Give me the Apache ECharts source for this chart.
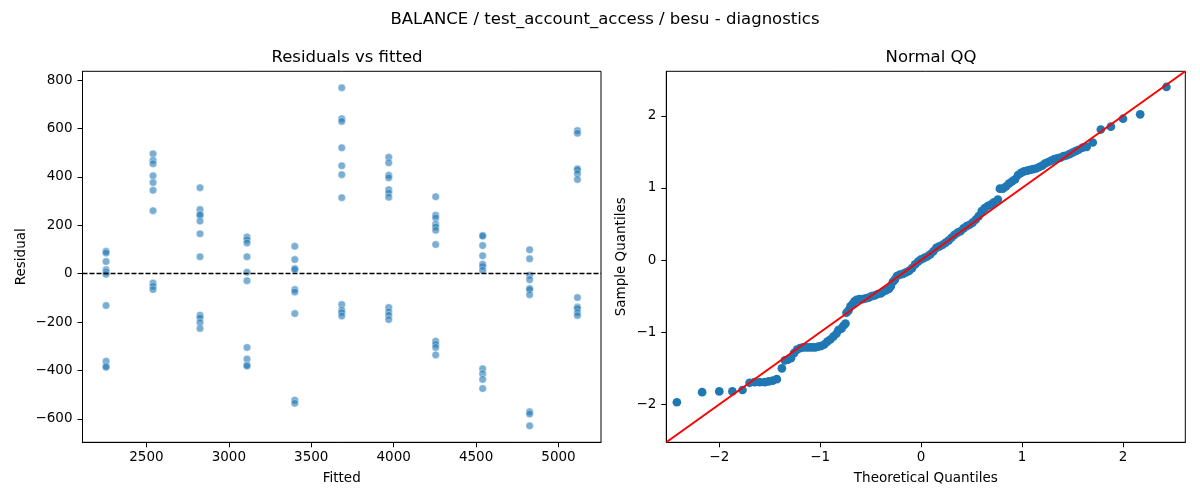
<!DOCTYPE html>
<html>
<head>
<meta charset="utf-8">
<title>diagnostics</title>
<script src="https://cdn.jsdelivr.net/npm/echarts@6/dist/echarts.min.js"></script>
<style>
    html, body { margin: 0; padding: 0; background: #fff; }
    #chart { width: 1200px; height: 500px; }
</style>
</head>
<body>
<div id="chart"></div>
<script>
'use strict';

// fitted value of each group (x position of each column of residuals)
var fitted = [2255, 2540, 2825, 3110, 3400, 3685, 3970, 4255, 4540, 4825, 5115];

// residuals read for each fitted group
var residuals = [
    [92, 85, 50, 16, 7, -3, -132, -362, -382, -387],
    [495, 468, 454, 404, 376, 344, 260, -39, -52, -66],
    [355, 265, 245, 241, 217, 165, 70, -172, -183, -202, -227],
    [151, 140, 127, 70, 6, -29, -305, -353, -378, -382],
    [113, 58, 21, 17, -66, -76, -165, -523, -536],
    [768, 640, 629, 520, 446, 409, 314, -128, -151, -161, -175],
    [481, 458, 406, 396, 347, 333, 316, -140, -158, -172, -190],
    [318, 241, 230, 204, 193, 179, 120, -279, -292, -305, -336],
    [158, 155, 116, 74, 39, 30, 14, -393, -414, -437, -475],
    [99, 61, -7, -25, -62, -66, -87, -571, -580, -629],
    [591, 580, 433, 429, 413, 389, -99, -138, -144, -161, -173]
];

var residualTicks = [-600, -400, -200, 0, 200, 400, 600, 800];
var fittedTicks = [2500, 3000, 3500, 4000, 4500, 5000];

// normal QQ points (theoretical, sample)
var qqTheoretical = [
    -2.42, -2.17, -2.00, -1.87, -1.77, -1.70, -1.65, -1.60, -1.55, -1.51,
    -1.47, -1.43, -1.38, -1.35, -1.32, -1.29, -1.26, -1.23, -1.20, -1.17,
    -1.14, -1.11, -1.08, -1.05, -1.02, -0.99, -0.96, -0.93, -0.90, -0.87,
    -0.84, -0.82, -0.79, -0.77, -0.75, -0.74, -0.72, -0.70, -0.68, -0.66,
    -0.64, -0.61, -0.58, -0.55, -0.52, -0.49, -0.46, -0.43, -0.40, -0.38,
    -0.35, -0.32, -0.30, -0.28, -0.26, -0.24, -0.21, -0.18, -0.15, -0.12,
    -0.09, -0.06, -0.03, 0.00, 0.03, 0.06, 0.09, 0.12, 0.15, 0.18,
    0.21, 0.24, 0.27, 0.30, 0.33, 0.36, 0.39, 0.42, 0.45, 0.48,
    0.51, 0.54, 0.57, 0.60, 0.63, 0.66, 0.69, 0.72, 0.76, 0.78,
    0.81, 0.84, 0.87, 0.90, 0.93, 0.96, 0.99, 1.02, 1.05, 1.08,
    1.11, 1.14, 1.17, 1.20, 1.23, 1.26, 1.29, 1.32, 1.35, 1.38,
    1.41, 1.44, 1.47, 1.50, 1.53, 1.56, 1.60, 1.64, 1.70, 1.78,
    1.88, 2.00, 2.17, 2.43
];
var qqSample = [
    -1.97, -1.83, -1.82, -1.82, -1.80, -1.70, -1.69, -1.69, -1.69, -1.68,
    -1.67, -1.65, -1.50, -1.39, -1.38, -1.36, -1.29, -1.24, -1.22, -1.21,
    -1.21, -1.21, -1.21, -1.21, -1.20, -1.19, -1.17, -1.13, -1.10, -1.06,
    -1.02, -0.97, -0.95, -0.91, -0.88, -0.73, -0.70, -0.64, -0.61, -0.57,
    -0.55, -0.54, -0.54, -0.53, -0.52, -0.50, -0.49, -0.47, -0.46, -0.44,
    -0.42, -0.40, -0.36, -0.30, -0.27, -0.22, -0.20, -0.19, -0.17, -0.15,
    -0.11, -0.06, -0.02, 0.01, 0.03, 0.05, 0.08, 0.12, 0.17, 0.19,
    0.21, 0.24, 0.27, 0.31, 0.35, 0.38, 0.40, 0.44, 0.47, 0.49,
    0.52, 0.56, 0.61, 0.68, 0.72, 0.75, 0.77, 0.80, 0.84, 0.99,
    0.99, 1.02, 1.06, 1.09, 1.12, 1.18, 1.21, 1.23, 1.24, 1.25,
    1.26, 1.27, 1.29, 1.31, 1.34, 1.36, 1.38, 1.40, 1.41, 1.42,
    1.44, 1.45, 1.47, 1.49, 1.51, 1.53, 1.56, 1.57, 1.63, 1.81,
    1.85, 1.96, 2.02, 2.40
];
var qqLimits = [-2.525, 2.617];
var qqTicks = [-2, -1, 0, 1, 2];

var FONT = 'DejaVu Sans';

function minus(v) {
    return String(v).replace('-', '\u2212');
}

function axisBase(idx, min, max, ticks, name, nameGap, isY) {
    return {
        type: 'value',
        gridIndex: idx,
        min: min,
        max: max,
        name: name,
        nameLocation: 'middle',
        nameGap: nameGap,
        nameRotate: isY ? 90 : 0,
        nameTextStyle: { fontFamily: FONT, fontSize: 13.5, color: '#000' },
        axisLine: { show: true, onZero: false, lineStyle: { color: '#000', width: 1 } },
        axisTick: {
            show: true, inside: false, length: 5,
            customValues: ticks,
            lineStyle: { color: '#000', width: 1 }
        },
        axisLabel: {
            show: true, margin: isY ? 10 : 8,
            customValues: ticks,
            fontFamily: FONT, fontSize: 13.5, color: '#000',
            formatter: minus
        },
        splitLine: { show: false }
    };
}

var residualPoints = [];
var i, j;
for (i = 0; i < fitted.length; i++) {
    for (j = 0; j < residuals[i].length; j++) {
        residualPoints.push([fitted[i], residuals[i][j]]);
    }
}

var qqPoints = [];
for (i = 0; i < qqTheoretical.length; i++) {
    qqPoints.push([qqTheoretical[i], qqSample[i]]);
}

var chart = echarts.init(document.getElementById('chart'));
chart.setOption({
    backgroundColor: '#fff',
    animation: false,
    title: [{
        text: 'BALANCE / test_account_access / besu - diagnostics',
        left: 600, top: 6, textAlign: 'center',
        textStyle: { fontFamily: FONT, fontSize: 16.5, fontWeight: 'normal', color: '#000' }
    }, {
        text: 'Residuals vs fitted',
        left: 342, top: 44, textAlign: 'center',
        textStyle: { fontFamily: FONT, fontSize: 16.5, fontWeight: 'normal', color: '#000' }
    }, {
        text: 'Normal QQ',
        left: 926, top: 44, textAlign: 'center',
        textStyle: { fontFamily: FONT, fontSize: 16.5, fontWeight: 'normal', color: '#000' }
    }],
    grid: [{
        left: 82.5, top: 71.3, width: 518.5, height: 371,
        show: true, borderColor: '#000', borderWidth: 1, backgroundColor: 'transparent'
    }, {
        left: 666.3, top: 71.3, width: 519, height: 371,
        show: true, borderColor: '#000', borderWidth: 1, backgroundColor: 'transparent'
    }],
    xAxis: [
        axisBase(0, 2112, 5258, fittedTicks, 'Fitted', 29, false),
        axisBase(1, qqLimits[0], qqLimits[1], qqTicks, 'Theoretical Quantiles', 29, false)
    ],
    yAxis: [
        axisBase(0, -697, 836, residualTicks, 'Residual', 54, true),
        axisBase(1, qqLimits[0], qqLimits[1], qqTicks, 'Sample Quantiles', 38, true)
    ],
    series: [{
        type: 'scatter',
        xAxisIndex: 0, yAxisIndex: 0,
        data: residualPoints,
        symbolSize: 7.5,
        itemStyle: { color: 'rgba(31,119,180,0.74)', borderColor: 'rgba(255,255,255,0.8)', borderWidth: 0.6 },
        z: 2
    }, {
        type: 'line',
        xAxisIndex: 0, yAxisIndex: 0,
        data: [],
        z: 3,
        markLine: {
            silent: true,
            symbol: ['none', 'none'],
            label: { show: false },
            lineStyle: { color: '#000', width: 1.3, type: [5, 2] },
            data: [{ yAxis: 0 }]
        }
    }, {
        type: 'scatter',
        xAxisIndex: 1, yAxisIndex: 1,
        data: qqPoints,
        symbolSize: 8.7,
        itemStyle: { color: '#1f77b4', opacity: 1 },
        z: 2
    }, {
        type: 'line',
        xAxisIndex: 1, yAxisIndex: 1,
        data: [[qqLimits[0], qqLimits[0]], [qqLimits[1], qqLimits[1]]],
        showSymbol: false,
        lineStyle: { color: '#ff0000', width: 2 },
        z: 3
    }]
});
</script>
</body>
</html>
